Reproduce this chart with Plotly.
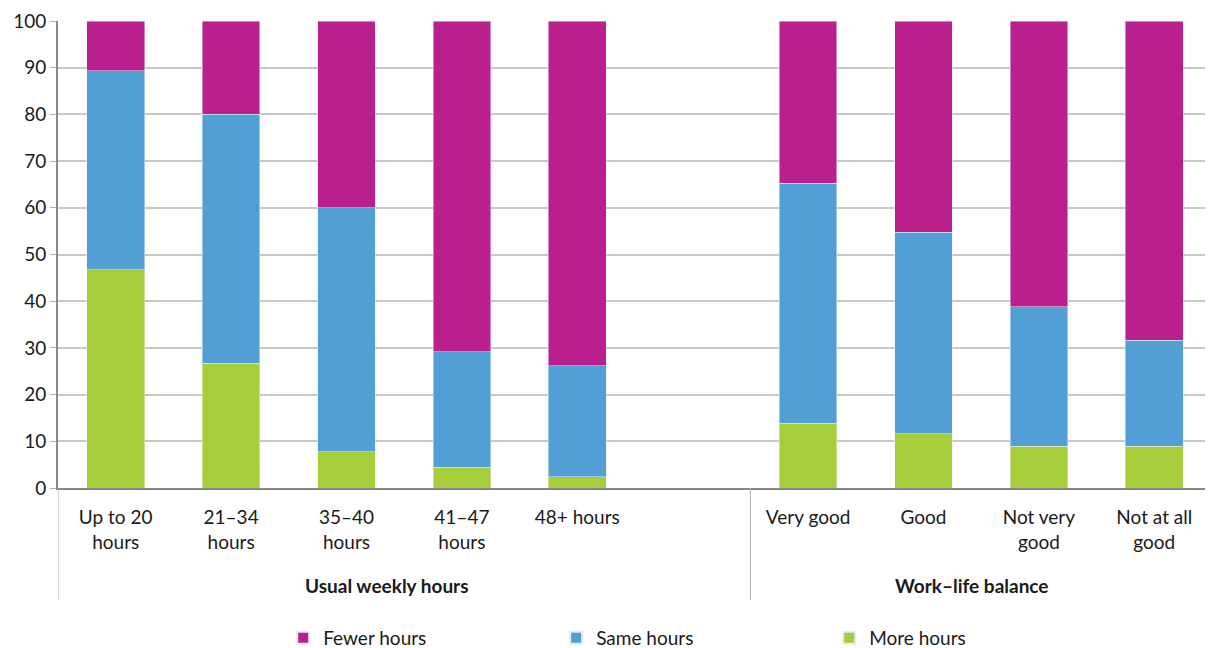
import plotly.graph_objects as go

categories = ["Up to 20<br>hours", "21–34<br>hours", "35–40<br>hours", "41–47<br>hours", "48+ hours",
              "Very good", "Good", "Not very<br>good", "Not at all<br>good"]
slots = [0, 1, 2, 3, 4, 6, 7, 8, 9]
more_hours = [46.7, 26.7, 7.8, 4.4, 2.4, 13.9, 11.6, 8.9, 8.9]
same_hours = [42.7, 53.3, 52.2, 24.8, 23.8, 51.4, 43.2, 29.9, 22.7]
fewer_hours = [10.6, 20.0, 40.0, 70.8, 73.8, 34.7, 45.2, 61.2, 68.4]
groups = ["Usual weekly hours", "Work–life balance"]
group_pos = [2.35, 7.42]
y_ticks = list(range(0, 101, 10))

FONT = "Lato, 'Source Sans Pro', 'Open Sans', sans-serif"
TXT = "#1a1a1a"

fig = go.Figure()
fig.add_trace(go.Bar(x=slots, y=more_hours, name="More hours", marker_color="#A6CD3A", width=0.5))
fig.add_trace(go.Bar(x=slots, y=same_hours, name="Same hours", marker_color="#529FD6", width=0.5))
fig.add_trace(go.Bar(x=slots, y=fewer_hours, name="Fewer hours", marker_color="#BA208D", width=0.5))

for g, p in zip(groups, group_pos):
    fig.add_annotation(x=p, y=-0.208, xref="x", yref="paper", text=f"<b>{g}</b>", showarrow=False,
                       font=dict(size=19, color=TXT, family=FONT), xanchor="center", yanchor="middle")

for xv in [-0.5, 5.5, 9.5]:
    fig.add_shape(type="line", x0=xv, x1=xv, xref="x", y0=0, y1=-0.24, yref="paper",
                  line=dict(color="#b0b0b0", width=1))

# page body has an 8px margin, so the figure is offset by 8px right and down
fig.update_layout(
    width=1205, height=640,
    barmode="stack",
    plot_bgcolor="white", paper_bgcolor="white",
    margin=dict(l=50, r=1, t=13, b=160, autoexpand=False),
    font=dict(family=FONT, size=19, color=TXT),
    bargap=0.5,
    showlegend=True,
    legend=dict(orientation="h", x=0.55, xanchor="center", y=-0.321, yanchor="middle",
                traceorder="reversed", entrywidth=228, entrywidthmode="pixels",
                font=dict(size=19, color=TXT, family=FONT), itemsizing="constant"),
)
fig.update_xaxes(range=[-0.5, 9.5], tickvals=slots, ticktext=categories, showgrid=False,
                 showline=True, linecolor="#888888", linewidth=2, ticks="", zeroline=False,
                 automargin=False,
                 tickfont=dict(size=19, color=TXT, family=FONT), ticklabelstandoff=11)
fig.update_yaxes(range=[0, 100], tickvals=y_ticks, showgrid=True, gridcolor="#c8c8c8", gridwidth=1.5,
                 showline=True, linecolor="#888888", linewidth=2, ticks="outside", ticklen=6,
                 tickcolor="#b0b0b0", zeroline=False, automargin=False,
                 tickfont=dict(size=19, color=TXT, family=FONT))

fig.write_html("out.html")
